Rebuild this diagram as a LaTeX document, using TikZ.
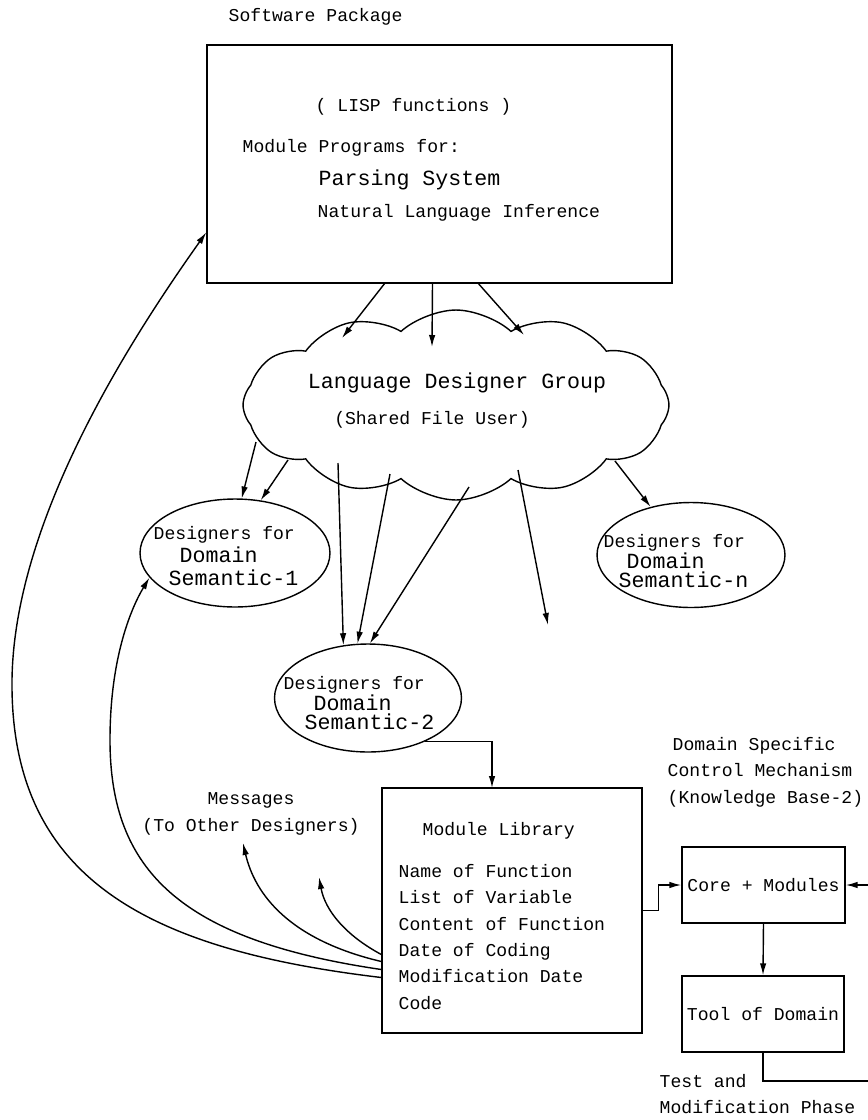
\documentclass[tikz,border=0pt]{standalone}
\usepackage{fontspec}
\setmainfont{Liberation Mono}
\setmonofont{Liberation Mono}
\usetikzlibrary{calc, arrows.meta, shapes.geometric, shapes.symbols}

\newcommand{\smalltt}{\fontsize{10.3}{15}\selectfont\ttfamily}
\newcommand{\bigtt}{\fontsize{12.3}{15}\selectfont\ttfamily}
\newcommand{\bigword}[1]{{\fontsize{12.3}{12}\selectfont #1}}

\begin{document}
\begin{tikzpicture}[x=0.02cm, y=-0.02cm, line width=0.8pt, >={Latex[length=2.4mm, width=1.3mm]},
    box/.style={draw, rectangle, inner sep=0pt, font=\smalltt},
    blob/.style={draw, ellipse, inner sep=0pt},
    lbl/.style={inner sep=0pt, font=\smalltt, align=left},
    semtxt/.style={inner sep=0pt, anchor=west, align=left, font=\fontsize{10.3}{#1}\selectfont\ttfamily}]
    \useasboundingbox (0,0) rectangle (868,1120);

    % software package
    \node[lbl, anchor=west] (swpkg) at (228,17) {Software Package};
    \node[box, minimum width=9.3cm, minimum height=4.76cm] (pkg) at (439.5,164) {};
    \node[lbl, anchor=west] (lisp) at (315,107) {( LISP functions )};
    \node[lbl, anchor=west] (progs) at (242,148) {Module Programs for:};
    \node[lbl, anchor=west, font=\bigtt] (parse) at (318,180) {Parsing System};
    \node[lbl, anchor=west] (nli) at (317,213) {Natural Language Inference};

    % designer group
    \node[draw, cloud, cloud puffs=12, cloud puff arc=85, cloud ignores aspect,
          minimum width=8.52cm, minimum height=3.8cm, inner sep=0pt] (group) at (456,405) {};
    \node[lbl, font=\bigtt] (grpname) at (457,383) {Language Designer Group};
    \node[lbl] (grpuser) at (432,420) {(Shared File User)};

    % domain designers
    \node[blob, minimum width=3.8cm, minimum height=2.16cm] (sem1) at (235,553) {};
    \node[semtxt=13] (sem1txt) at (153,556) {Designers for\\\hspace*{0.52cm}\bigword{Domain}\\\hspace*{0.3cm}\bigword{Semantic-1}};
    \node[blob, minimum width=3.74cm, minimum height=2.16cm] (sem2) at (368,698) {};
    \node[semtxt=11] (sem2txt) at (283,703) {Designers for\\\hspace*{0.6cm}\bigword{Domain}\\\hspace*{0.42cm}\bigword{Semantic-2}};
    \node[blob, minimum width=3.76cm, minimum height=2.1cm] (semn) at (691,555) {};
    \node[semtxt=11] (semntxt) at (603,561) {Designers for\\\hspace*{0.46cm}\bigword{Domain}\\\hspace*{0.3cm}\bigword{Semantic-n}};

    % library and domain tool
    \node[box, minimum width=5.2cm, minimum height=4.9cm] (ml) at (512,910.5) {};
    \node[lbl, anchor=west] (mltitle) at (422,831) {Module Library};
    \node[lbl, anchor=west] (mlitems) at (398,937) {Name of Function\\List of Variable\\Content of Function\\Date of Coding\\Modification Date\\Code};
    \node[lbl, anchor=west] (kb) at (667,772) {\hspace*{0.1cm}Domain Specific\\Control Mechanism\\(Knowledge Base-2)};
    \node[box, minimum width=3.26cm, minimum height=1.52cm] (core) at (763.5,885) {Core + Modules};
    \node[box, minimum width=3.24cm, minimum height=1.52cm] (tool) at (763,1014) {Tool of Domain};
    \node[lbl, anchor=west] (phase) at (659,1094) {Test and\\Modification Phase};
    \node[lbl, align=center] (msgs) at (251,814) {Messages\\(To Other Designers)};

    \coordinate (in1) at (342,338);
    \coordinate (in2) at (432,347);
    \coordinate (in3) at (524,335);
    \coordinate (out1) at (256,442);
    \coordinate (out2) at (288,460);
    \coordinate (out3) at (338,463);
    \coordinate (out4) at (390,474);
    \coordinate (out5) at (469,487);
    \coordinate (out6) at (518,470);
    \coordinate (out7) at (615,461);
    \coordinate (loose) at (548,625);
    \coordinate (mlin) at (492,788);
    \coordinate (edge) at (870,1081);
    \coordinate (msg1) at (243,843);
    \coordinate (msg2) at (319,877);

    \draw[->] ($(pkg.south)+(-55,0)$) -- (in1);
    \draw[->] ($(pkg.south)+(-7,0)$) -- (in2);
    \draw[->] ($(pkg.south)+(39,0)$) -- (in3);

    \draw[->] (out1) -- (sem1.83);
    \draw[->] (out2) -- (sem1.64);
    \draw[->] (out3) -- (sem2.115);
    \draw[->] (out4) -- (sem2.101);
    \draw[->] (out5) -- (sem2.88);
    \draw[->] (out6) -- (loose);
    \draw[->] (out7) -- (semn.130);

    \draw[->] (sem2.-37) -| (mlin);
    \draw[->] (ml.east) -- ++(16,0) |- (core.west);
    \draw[->] (core.south) -- (tool.north);
    \draw[->] (tool.south) |- (edge) |- (core.east);

    % feedback from the library
    \draw[->] ($(ml.west)+(0,67)$) .. controls (150,950) and (10,880) .. (12,680)
        .. controls (14,520) and (130,340) .. ($(pkg.north west)+(0,188)$);
    \draw[->] ($(ml.west)+(0,59)$) .. controls (180,940) and (110,870) .. (110,740)
        .. controls (110,660) and (130,610) .. (sem1.196);
    \draw[->] ($(ml.west)+(0,51)$) .. controls (290,940) and (255,895) .. (msg1);
    \draw[->] ($(ml.west)+(0,44)$) .. controls (345,935) and (325,910) .. (msg2);
\end{tikzpicture}
\end{document}
